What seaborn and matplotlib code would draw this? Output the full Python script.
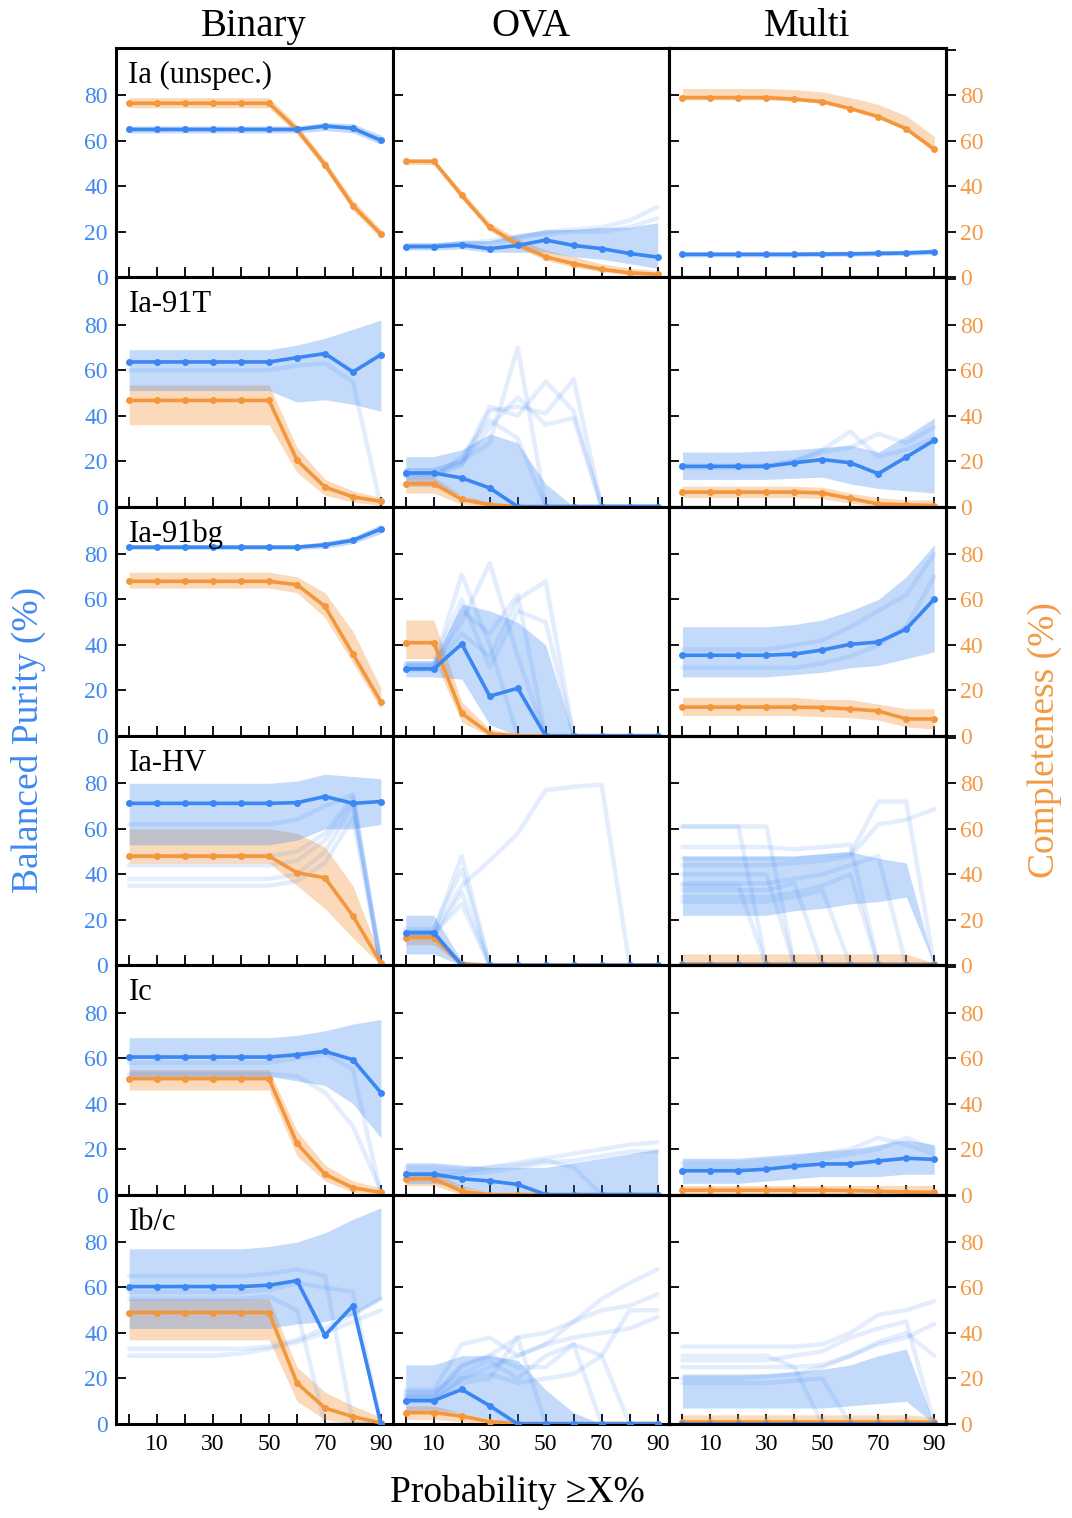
import numpy as np
import pandas as pd
import matplotlib
matplotlib.use("Agg")
import matplotlib.pyplot as plt
import seaborn as sns

# ---------------- data ----------------
thresholds = [0, 10, 20, 30, 40, 50, 60, 70, 80, 90]
classes = ["Ia (unspec.)", "Ia-91T", "Ia-91bg", "Ia-HV", "Ic", "Ib/c"]
methods = ["Binary", "OVA", "Multi"]
xtick_labels = ["", "10", "", "30", "", "50", "", "70", "", "90"]
ytick_values = [0, 20, 40, 60, 80]

# Binary
purity_binary = [
    [65, 65, 65, 65, 65, 65, 65, 66.5, 65.5, 60.2],
    [63.6, 63.6, 63.6, 63.6, 63.6, 63.6, 65.5, 67.3, 59.2, 66.8],
    [83, 83, 83, 83, 83, 83, 83, 84, 86, 91],
    [71.2, 71.2, 71.2, 71.2, 71.2, 71.2, 71.5, 74.2, 71.2, 72],
    [60.5, 60.5, 60.5, 60.5, 60.5, 60.5, 61.5, 63, 59.3, 44.8],
    [60.4, 60.4, 60.4, 60.4, 60.4, 61, 63, 39, 52, 0],
]
purity_lo_binary = [
    [63.5, 63.5, 63.5, 63.5, 63.5, 63.5, 63.5, 64.5, 63.5, 58.5],
    [51, 51, 51, 51, 51, 51, 46, 47, 45, 42],
    [82, 82, 82, 82, 82, 82, 82, 82.5, 84.5, 89],
    [53, 53, 53, 53, 53, 53, 55, 60, 60, 62],
    [52, 52, 52, 52, 52, 52, 50, 48, 40, 25],
    [42, 42, 42, 42, 42, 42, 44, 45, 48, 55],
]
purity_hi_binary = [
    [66.5, 66.5, 66.5, 66.5, 66.5, 66.5, 66.5, 68, 67.5, 62.5],
    [69, 69, 69, 69, 69, 69, 71, 74, 78, 82],
    [84, 84, 84, 84, 84, 84, 84, 85.5, 87.5, 93],
    [80, 80, 80, 80, 80, 80, 81, 84, 83, 82],
    [69, 69, 69, 69, 69, 69, 70, 72, 75, 77],
    [77, 77, 77, 77, 77, 78, 80, 84, 90, 95],
]
purity_samples_binary = [
    [],
    [[60, 60, 60, 60, 60, 60, 62, 63, 55, 0]],
    [],
    [[35, 35, 35, 35, 35, 35, 37, 45, 65, 0],
     [38, 38, 38, 38, 38, 38, 40, 50, 70, 0],
     [44, 44, 44, 44, 44, 44, 46, 55, 72, 0],
     [48, 48, 48, 48, 48, 48, 50, 58, 74, 0],
     [62, 62, 62, 62, 62, 62, 64, 70, 75, 0]],
    [[58, 58, 58, 58, 58, 58, 60, 62, 55, 0],
     [53, 53, 53, 53, 53, 53, 52, 45, 30, 2]],
    [[30, 30, 30, 30, 31, 33, 36, 40, 45, 50],
     [33, 33, 33, 33, 33, 34, 37, 42, 48, 55],
     [55, 55, 55, 55, 55, 56, 50, 0, 0, 0],
     [65, 65, 65, 65, 65, 66, 68, 65, 0, 0],
     [58, 58, 58, 58, 58, 59, 62, 60, 58, 0]],
]
completeness_binary = [
    [76.5, 76.5, 76.5, 76.5, 76.5, 76.5, 65, 49.5, 31.5, 19],
    [46.7, 46.7, 46.7, 46.7, 46.7, 46.7, 20.4, 8.6, 4.3, 2.3],
    [68, 68, 68, 68, 68, 68, 66.5, 57, 36, 15],
    [48, 48, 48, 48, 48, 48, 40.7, 38.5, 21.7, 1],
    [51, 51, 51, 51, 51, 51, 22.5, 9, 3, 1],
    [49, 49, 49, 49, 49, 49, 18, 7, 3.2, 0.5],
]
completeness_lo_binary = [
    [74.5, 74.5, 74.5, 74.5, 74.5, 74.5, 63, 47.5, 29.5, 17],
    [36, 36, 36, 36, 36, 36, 15, 5, 2, 0.5],
    [65, 65, 65, 65, 65, 65, 63, 52, 32, 12],
    [45, 45, 45, 45, 45, 45, 35, 25, 12, 0],
    [46, 46, 46, 46, 46, 46, 17, 6, 1, 0],
    [37, 37, 37, 37, 37, 37, 10, 2, 0, 0],
]
completeness_hi_binary = [
    [79, 79, 79, 79, 79, 79, 67, 51.5, 34, 21],
    [53.5, 53.5, 53.5, 53.5, 53.5, 53.5, 26, 12, 7, 4],
    [72, 72, 72, 72, 72, 72, 70, 63, 46, 21],
    [60, 60, 60, 60, 60, 60, 58, 52, 35, 3],
    [55, 55, 55, 55, 55, 55, 28, 13, 6, 3],
    [55, 55, 55, 55, 55, 55, 25, 14, 8, 3],
]

# OVA
purity_ova = [
    [13.5, 13.5, 14.2, 12.6, 14, 16.4, 14, 12.6, 10.5, 8.9],
    [14.8, 14.8, 12.6, 8.2, 0, 0, 0, 0, 0, 0],
    [29.5, 29.5, 40.5, 17.5, 21, 0, 0, 0, 0, 0],
    [14.4, 14.4, 0, 0, 0, 0, 0, 0, 0, 0],
    [9, 9, 7, 6, 4.5, 0, 0, 0, 0, 0],
    [10.3, 10.3, 15.2, 8, 0, 0, 0, 0, 0, 0],
]
purity_lo_ova = [
    [12, 12, 12.5, 11, 11, 11, 9, 8, 6, 4],
    [9, 9, 5, 0, 0, 0, 0, 0, 0, 0],
    [26, 26, 25, 5, 0, 0, 0, 0, 0, 0],
    [5, 5, 0, 0, 0, 0, 0, 0, 0, 0],
    [5, 5, 3, 1, 0, 0, 0, 0, 0, 0],
    [6, 6, 5, 2, 0, 0, 0, 0, 0, 0],
]
purity_hi_ova = [
    [15, 15, 16, 16, 19, 21, 21, 22, 22, 24],
    [22, 22, 25, 32, 28, 10, 0, 0, 0, 0],
    [33, 33, 58, 55, 50, 40, 0, 0, 0, 0],
    [22, 22, 2, 0, 0, 0, 0, 0, 0, 0],
    [14, 14, 13, 12, 12, 12, 14, 16, 18, 20],
    [26, 26, 30, 30, 28, 15, 5, 0, 0, 0],
]
purity_samples_ova = [
    [[14, 14, 15, 15, 17, 20, 21, 22, 25, 31],
     [14, 14, 15, 16, 18, 19, 20, 20, 22, 26]],
    [[16, 16, 20, 28, 70, 0, 0, 0, 0, 0],
     [16, 16, 20, 44, 40, 55, 42, 0, 0, 0],
     [14, 14, 18, 42, 44, 41, 56, 0, 0, 0],
     [14, 14, 19, 35, 48, 36, 39, 0, 0, 0],
     [13, 13, 22, 38, 30, 0, 0, 0, 0, 0]],
    [[31, 31, 71, 40, 0, 0, 0, 0, 0, 0],
     [31, 31, 50, 76, 35, 0, 0, 0, 0, 0],
     [30, 30, 45, 35, 60, 68, 0, 0, 0, 0],
     [29, 29, 55, 45, 62, 0, 0, 0, 0, 0],
     [32, 32, 60, 30, 55, 50, 0, 0, 0, 0]],
    [[14, 14, 35, 46, 58, 77, 78.5, 79.5, 0, 0],
     [15, 15, 48, 0, 0, 0, 0, 0, 0, 0],
     [13, 13, 32, 0, 0, 0, 0, 0, 0, 0],
     [14, 14, 27, 0, 0, 0, 0, 0, 0, 0],
     [16, 16, 42, 0, 0, 0, 0, 0, 0, 0]],
    [[10, 10, 10, 12, 14, 16, 18, 20, 22, 23],
     [8, 8, 9, 10, 12, 14, 15, 17, 19, 19],
     [12, 12, 11, 12, 13, 15, 12, 0, 0, 0]],
    [[15, 15, 35, 38, 30, 35, 45, 55, 62, 68],
     [12, 12, 25, 30, 38, 40, 45, 50, 52, 57],
     [10, 10, 20, 25, 30, 35, 38, 40, 42, 47],
     [14, 14, 22, 28, 20, 30, 35, 30, 50, 50],
     [11, 11, 18, 20, 38, 0, 0, 0, 0, 0],
     [13, 13, 26, 30, 25, 25, 35, 0, 0, 0],
     [12, 12, 20, 22, 18, 20, 22, 30, 0, 0]],
]
completeness_ova = [
    [51, 51, 36, 22, 14.5, 9, 6, 3.5, 2, 1.3],
    [10.1, 10.1, 3.2, 0.8, 0, 0, 0, 0, 0, 0],
    [41, 41, 10, 1, 0, 0, 0, 0, 0, 0],
    [12.2, 12.2, 0.5, 0, 0, 0, 0, 0, 0, 0],
    [7, 7, 1.5, 0, 0, 0, 0, 0, 0, 0],
    [5, 5, 3.5, 1, 0, 0, 0, 0, 0, 0],
]
completeness_lo_ova = [
    [49.5, 49.5, 34.5, 20.5, 13, 7.5, 4.5, 2.5, 1, 0.5],
    [6, 6, 1, 0, 0, 0, 0, 0, 0, 0],
    [34, 34, 6, 0, 0, 0, 0, 0, 0, 0],
    [9, 9, 0, 0, 0, 0, 0, 0, 0, 0],
    [4, 4, 0, 0, 0, 0, 0, 0, 0, 0],
    [2, 2, 1, 0, 0, 0, 0, 0, 0, 0],
]
completeness_hi_ova = [
    [52, 52, 38, 24, 17, 12, 9, 6, 4, 3],
    [13, 13, 5, 2, 1, 1, 1, 1, 1, 1],
    [51, 51, 15, 3, 1, 0.5, 0.5, 0.5, 0.5, 0.5],
    [14, 14, 2, 1, 1, 1, 1, 1, 1, 1],
    [10, 10, 4, 1, 1, 1, 1, 1, 1, 1],
    [8, 8, 5, 2, 1.5, 1.5, 1.5, 1.5, 1.5, 1.5],
]

# Multi
purity_multi = [
    [10.1, 10.1, 10.1, 10.1, 10.1, 10.2, 10.3, 10.5, 10.7, 11.2],
    [17.7, 17.7, 17.7, 17.7, 19.3, 20.7, 19.3, 14.5, 21.8, 29.2],
    [35.5, 35.5, 35.5, 35.5, 36, 37.8, 40.3, 41.3, 47, 60.2],
    [0, 0, 0, 0, 0, 0, 0, 0, 0, 0],
    [10.5, 10.5, 10.5, 11.2, 12.5, 13.5, 13.5, 14.8, 16, 15.5],
    [0, 0, 0, 0, 0, 0, 0, 0, 0, 0],
]
purity_lo_multi = [
    [9, 9, 9, 9, 9, 9.2, 9.3, 9.5, 9.7, 10],
    [12, 12, 12, 12, 12.5, 13, 10, 8, 7, 6],
    [26, 26, 26, 26, 27, 28, 30, 31, 34, 37],
    [22, 22, 22, 22, 24, 25, 27, 28, 30, 0],
    [5, 5, 5, 6, 7, 8, 8, 8, 9, 9],
    [7, 7, 7, 7, 7, 7, 8, 9, 10, 0],
]
purity_hi_multi = [
    [11.3, 11.3, 11.3, 11.3, 11.3, 11.4, 11.5, 11.7, 11.9, 12.5],
    [24, 24, 24, 24.5, 25, 26, 27, 24, 31, 39],
    [48, 48, 48, 48, 49, 51, 55, 60, 70, 84],
    [48, 48, 48, 48, 48, 49, 50, 47, 45, 0],
    [16, 16, 16, 17, 18, 19, 20, 22, 24, 22],
    [22, 22, 22, 22, 23, 24, 26, 30, 33, 0],
]
purity_samples_multi = [
    [],
    [[18, 18, 18, 18, 20, 25, 33, 22, 25, 30],
     [17, 17, 17, 18, 20, 24, 26, 32, 28, 35]],
    [[38, 38, 38, 38, 40, 42, 48, 55, 62, 80],
     [30, 30, 30, 30, 30, 32, 35, 40, 48, 70]],
    [[61, 61, 61, 0, 0, 0, 0, 0, 0, 0],
     [61, 61, 61, 61, 0, 0, 0, 0, 0, 0],
     [52, 52, 52, 52, 51, 52, 53, 0, 0, 0],
     [47, 47, 47, 47, 47, 48, 49, 72, 72, 0],
     [44, 44, 44, 44, 45, 46, 48, 62, 64, 68.6],
     [35, 35, 35, 0, 0, 0, 0, 0, 0, 0],
     [40, 40, 40, 40, 0, 0, 0, 0, 0, 0],
     [33, 33, 33, 33, 36, 0, 0, 0, 0, 0],
     [28, 28, 28, 28, 30, 33, 0, 0, 0, 0],
     [30, 30, 30, 30, 32, 35, 40, 0, 0, 0],
     [36, 36, 36, 36, 38, 40, 44, 48, 0, 0]],
    [[14, 14, 14, 15, 16, 18, 20, 25, 22, 18],
     [12, 12, 12, 13, 14, 16, 18, 20, 25, 20]],
    [[34, 34, 34, 34, 34, 35, 40, 48, 50, 54],
     [30, 30, 30, 30, 25, 0, 0, 0, 0, 0],
     [28, 28, 28, 28, 30, 32, 38, 42, 45, 0],
     [20, 20, 20, 21, 22, 25, 30, 35, 38, 44],
     [18, 18, 18, 18, 19, 20, 0, 0, 0, 0],
     [25, 25, 25, 25, 25, 26, 30, 36, 40, 30]],
]
completeness_multi = [
    [79, 79, 79, 79, 78.3, 77.2, 74.2, 70.6, 65.3, 56.3],
    [6.4, 6.4, 6.4, 6.4, 6.4, 6, 3.6, 1.2, 0.8, 0.5],
    [12.7, 12.7, 12.7, 12.7, 12.7, 12.5, 11.9, 11, 7.5, 7.5],
    [0.5, 0.5, 0.5, 0.5, 0.5, 0.5, 0.5, 0.5, 0.5, 0.5],
    [2, 2, 2, 2, 2, 2, 1.8, 1.5, 1.2, 1],
    [1, 1, 1, 1, 1, 1, 1, 1, 1, 1],
]
completeness_lo_multi = [
    [78, 78, 78, 78, 77.5, 76.5, 73.5, 70, 64.5, 55],
    [4, 4, 4, 4, 4, 3.5, 1.5, 0, 0, 0],
    [9, 9, 9, 9, 9, 8.5, 8, 7, 4, 3],
    [0, 0, 0, 0, 0, 0, 0, 0, 0, 0],
    [0, 0, 0, 0, 0, 0, 0, 0, 0, 0],
    [0, 0, 0, 0, 0, 0, 0, 0, 0, 0],
]
completeness_hi_multi = [
    [83, 83, 83, 83, 82.5, 81.5, 79, 76, 71, 62],
    [9, 9, 9, 9, 9, 8.5, 6, 4, 3, 3],
    [17, 17, 17, 17, 17, 16, 16, 14, 12, 12],
    [5, 5, 5, 5, 5, 5, 5, 5, 5, 1],
    [4, 4, 4, 4, 4, 4, 4, 4, 4, 4],
    [4, 4, 4, 4, 4, 4, 4, 4, 4, 3],
]

# ---------------- style ----------------
BLUE = "#3a86f2"
ORANGE = "#f4963c"
BLUE_TXT = "#3f89ef"
ORANGE_TXT = "#f29a45"

sns.set_theme(style="white")
plt.rcParams["font.family"] = ["Liberation Serif", "DejaVu Serif"]
plt.rcParams["text.color"] = "black"
plt.rcParams["xtick.color"] = "black"
plt.rcParams["ytick.color"] = "black"
plt.rcParams["axes.labelcolor"] = "black"

W, H = 1072, 1518
fig, axes = plt.subplots(6, 3, figsize=(W / 100, H / 100), dpi=100,
                         sharex=True, sharey=True)
fig.subplots_adjust(left=116 / W, right=946 / W, top=1 - 48 / H,
                    bottom=1 - 1424 / H, hspace=0, wspace=0)

purity = {"Binary": purity_binary, "OVA": purity_ova, "Multi": purity_multi}
p_lo = {"Binary": purity_lo_binary, "OVA": purity_lo_ova, "Multi": purity_lo_multi}
p_hi = {"Binary": purity_hi_binary, "OVA": purity_hi_ova, "Multi": purity_hi_multi}
p_samp = {"Binary": purity_samples_binary, "OVA": purity_samples_ova,
          "Multi": purity_samples_multi}
comp = {"Binary": completeness_binary, "OVA": completeness_ova,
        "Multi": completeness_multi}
c_lo = {"Binary": completeness_lo_binary, "OVA": completeness_lo_ova,
        "Multi": completeness_lo_multi}
c_hi = {"Binary": completeness_hi_binary, "OVA": completeness_hi_ova,
        "Multi": completeness_hi_multi}

for j, m in enumerate(methods):
    for i, cls in enumerate(classes):
        ax = axes[i, j]
        # completeness
        ax.fill_between(thresholds, c_lo[m][i], c_hi[m][i], color=ORANGE,
                        alpha=0.35, lw=0, zorder=1)
        sns.lineplot(x=thresholds, y=comp[m][i], ax=ax, color=ORANGE, lw=2.6,
                     marker="o", markersize=5, markeredgewidth=0, zorder=3)
        # purity
        ax.fill_between(thresholds, p_lo[m][i], p_hi[m][i], color=BLUE,
                        alpha=0.3, lw=0, zorder=2)
        samples = p_samp[m][i]
        if samples:
            df = pd.DataFrame({
                "x": thresholds * len(samples),
                "y": [v for s in samples for v in s],
                "run": [k for k, s in enumerate(samples) for _ in s],
            })
            sns.lineplot(data=df, x="x", y="y", units="run", estimator=None,
                         ax=ax, color=BLUE, alpha=0.14, lw=3.2, zorder=2)
        sns.lineplot(x=thresholds, y=purity[m][i], ax=ax, color=BLUE, lw=2.6,
                     marker="o", markersize=5, markeredgewidth=0, zorder=4)

        ax.set_xlim(-4.7, 94.2)
        ax.set_ylim(0, 100.8)
        ax.set_xlabel("")
        ax.set_ylabel("")
        ax.set_xticks(thresholds)
        ax.set_xticklabels(xtick_labels)
        ax.set_yticks(ytick_values)
        ax.tick_params(axis="both", direction="in", length=7, width=1.3,
                       color="black", labelsize=17)
        ax.tick_params(axis="x", bottom=True, top=False, pad=7,
                       labelcolor="black")
        ax.tick_params(axis="y", left=True, right=False, labelcolor=BLUE_TXT, pad=6)
        for sp in ax.spines.values():
            sp.set_linewidth(2.2)
            sp.set_color("black")
        if j == 0:
            ax.text(0.045, 0.847, cls, transform=ax.transAxes, ha="left",
                    va="baseline", fontsize=22, color="black", zorder=6)
        if j == 2:
            ax2 = ax.twinx()
            ax2.set_ylim(0, 100.8)
            ax2.set_yticks([0, 20, 40, 60, 80, 100])
            ax2.set_yticklabels(["0", "20", "40", "60", "80", ""])
            ax2.tick_params(axis="y", direction="out", length=7, width=1.3,
                            color="black", labelsize=17, labelcolor=ORANGE_TXT,
                            pad=3)
            ax2.grid(False)
            for sp in ax2.spines.values():
                sp.set_linewidth(2.2)
                sp.set_color("black")

for j, m in enumerate(methods):
    xc = (116 + 276.7 * j + 138) / W
    fig.text(xc, 1 - 36 / H, m, ha="center", va="baseline", fontsize=28,
             color="black")

fig.text(28 / W, 1 - 740 / H, "Balanced Purity (%)", rotation=90,
         ha="center", va="center", fontsize=27, color=BLUE_TXT)
fig.text(1045 / W, 1 - 740 / H, "Completeness (%)", rotation=90,
         ha="center", va="center", fontsize=27, color=ORANGE_TXT)
fig.text(517 / W, 1 - 1492 / H, "Probability \u2265X%", ha="center",
         va="center", fontsize=27, color="black")

fig.savefig("out.png", dpi=100)
